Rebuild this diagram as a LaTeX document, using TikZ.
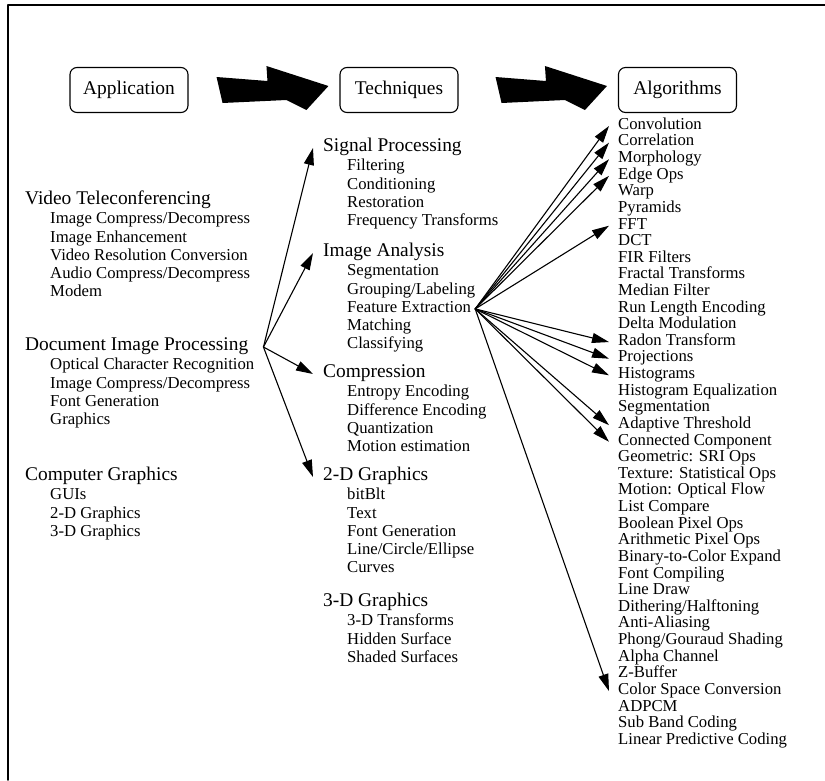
\documentclass[tikz,border=0pt]{standalone}
\usepackage{fontspec}
\setmainfont{Liberation Serif}
\usetikzlibrary{arrows.meta,calc}
\begin{document}
\begin{tikzpicture}[x=1pt, y=-1pt, line join=round, line cap=round, >={Triangle[length=17pt,width=10pt]},
	box/.style={draw, line width=1.1pt, rounded corners=7pt, minimum width=118pt, minimum height=45pt, inner sep=0pt, font=\fontsize{19.4}{22}\selectfont},
	head/.style={anchor=west, inner sep=0pt, text height=0.75em, text depth=0.09em, font=\fontsize{19.4}{22}\selectfont},
	item/.style={anchor=west, inner sep=0pt, text height=0.75em, text depth=0.09em, font=\fontsize{16.7}{18}\selectfont},
	link/.style={->, line width=1.1pt}]
	\def\xa{25} \def\xb{323} \def\xc{618} % columns
	\def\ls{18.2} \def\rs{16.62}
	\useasboundingbox (0,0) rectangle (825,780);
	\draw[line width=1.6pt] (825,5) -- (8,5) -- (8,780);
	\node[box] (app) at (129,90) {Application};
	\node[box] (tech) at (399,90) {Techniques};
	\node[box] (algo) at (677.5,90) {Algorithms};
	\foreach \s/\t/\g in {app/tech/28, tech/algo/37}
	\fill ($(\s.east)+(\g,-13)$) -- ($(\t.west)+(-72,-9)$) -- ($(\t.west)+(-73,-24)$) -- ($(\t.west)+(-11,-4)$)
	-- ($(\t.west)+(-33,20)$) -- ($(\t.west)+(-53,10)$) -- ($(\s.east)+(\g+6,13)$) -- cycle;
	
	\node[head] (vt) at (\xa,201) {Video Teleconferencing};
	\foreach \t [count=\i] in {Image Compress/Decompress, Image Enhancement, Video Resolution Conversion, Audio Compress/Decompress, Modem}
	\node[item] (vt-\i) at (\xa+25,201+1.3+\i*\ls) {\t};
	\node[head] (doc) at (\xa,347) {Document Image Processing};
	\foreach \t [count=\i] in {Optical Character Recognition, Image Compress/Decompress, Font Generation, Graphics}
	\node[item] (doc-\i) at (\xa+25,347+1.3+\i*\ls) {\t};
	\node[head] (cg) at (\xa,477) {Computer Graphics};
	\foreach \t [count=\i] in {GUIs, 2-D Graphics, 3-D Graphics}
	\node[item] (cg-\i) at (\xa+25,477+1.3+\i*\ls) {\t};
	
	\node[head] (sig) at (\xb,148) {Signal Processing};
	\foreach \t [count=\i] in {Filtering, Conditioning, Restoration, Frequency Transforms}
	\node[item] (sig-\i) at (\xb+24,148+1.3+\i*\ls) {\t};
	\node[head] (ana) at (\xb,253) {Image Analysis};
	\foreach \t [count=\i] in {Segmentation, Grouping/Labeling, Feature Extraction, Matching, Classifying}
	\node[item] (ana-\i) at (\xb+24,253+1.3+\i*\ls) {\t};
	\node[head] (comp) at (\xb,374) {Compression};
	\foreach \t [count=\i] in {Entropy Encoding, Difference Encoding, Quantization, Motion estimation}
	\node[item] (comp-\i) at (\xb+24,374+1.3+\i*\ls) {\t};
	\node[head] (twod) at (\xb,477) {2-D Graphics};
	\foreach \t [count=\i] in {bitBlt, Text, Font Generation, Line/Circle/Ellipse, Curves}
	\node[item] (twod-\i) at (\xb+24,477+1.3+\i*\ls) {\t};
	\node[head] (threed) at (\xb,603) {3-D Graphics};
	\foreach \t [count=\i] in {3-D Transforms, Hidden Surface, Shaded Surfaces}
	\node[item] (threed-\i) at (\xb+24,603+1.3+\i*\ls) {\t};
	
	\foreach \t [count=\i from 0] in {Convolution, Correlation, Morphology, Edge Ops, Warp, Pyramids, FFT, DCT, FIR Filters,
		Fractal Transforms, Median Filter, Run Length Encoding, Delta Modulation, Radon Transform, Projections, Histograms,
		Histogram Equalization, Segmentation, Adaptive Threshold, Connected Component, Geometric: SRI Ops,
		Texture: Statistical Ops, Motion: Optical Flow, List Compare, Boolean Pixel Ops, Arithmetic Pixel Ops,
		Binary-to-Color Expand, Font Compiling, Line Draw, Dithering/Halftoning, Anti-Aliasing, Phong/Gouraud Shading,
		Alpha Channel, Z-Buffer, Color Space Conversion, ADPCM, Sub Band Coding, Linear Predictive Coding}
	\node[item] (alg-\i) at (\xc,126+\i*\rs) {\t};
	
	\foreach \t in {sig,ana,comp,twod}
	\draw[link] ([xshift=15pt]doc.east) -- ([xshift=-10pt]\t.west);
	\foreach \i in {0,1,2,3,6,13,14,15,18,19,34}
	\draw[link] ([xshift=4pt]ana-3.east) -- ([xshift=-9pt]alg-\i.west);
\end{tikzpicture}
\end{document}
